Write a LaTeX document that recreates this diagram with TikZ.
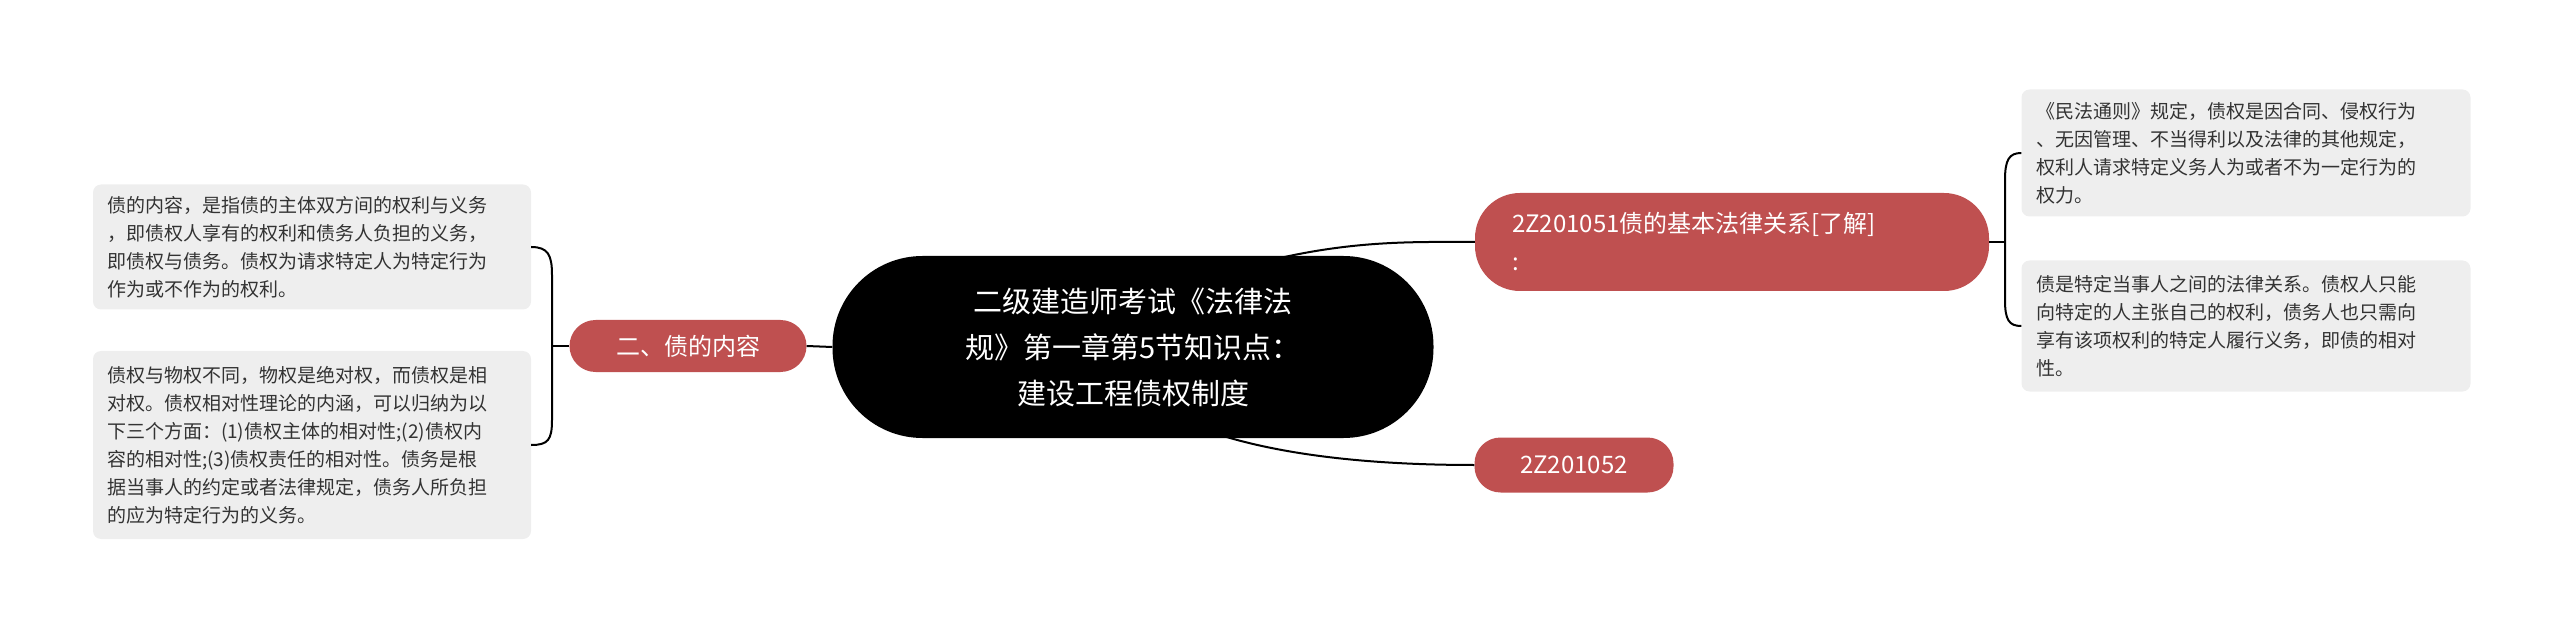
\documentclass[tikz,border=0pt]{standalone}
\usepackage{fontspec}
\setmainfont{Noto Sans CJK SC}
\begin{document}
\begin{tikzpicture}[x=1pt,y=-1pt,
  leaf/.style={fill=boxgray,rounded corners=8pt,text=txt,align=left,inner sep=0pt,font=\fontsize{19}{28}\selectfont},
  pill/.style={fill=pillred,rounded corners=26pt,text=white,font=\fontsize{24}{38}\selectfont,inner sep=0pt},
  conn/.style={line width=2pt,black}]
\definecolor{boxgray}{HTML}{EEEEEE}
\definecolor{txt}{HTML}{333333}
\definecolor{pillred}{HTML}{BF5050}
\useasboundingbox (0,0) rectangle (2560,628);
% central
\node[fill=black,rounded corners=90pt,minimum width=601pt,minimum height=182pt,text=white,align=center,font=\fontsize{29}{46}\selectfont] (c) at (1133,347) {二级建造师考试《法律法\\规》第一章第5节知识点：\\建设工程债权制度};
% pills
\node[pill,minimum width=237pt,minimum height=52pt] (p1) at (688,346) {二、债的内容};
\node[pill,minimum width=514pt,minimum height=98pt,align=left,text width=440pt,rounded corners=45pt] (p2) at (1732,242) {2Z201051债的基本法律关系[了解]\\:};
\node[pill,minimum width=199pt,minimum height=55pt] (p3) at (1574,465) {2Z201052};
% leaves
\node[leaf,minimum width=438pt,minimum height=125pt,text width=410pt] (l1) at (312,247) {债的内容，是指债的主体双方间的权利与义务\\，即债权人享有的权利和债务人负担的义务，\\即债权与债务。债权为请求特定人为特定行为\\作为或不作为的权利。};
\node[leaf,minimum width=438pt,minimum height=188pt,text width=410pt] (l2) at (312,445) {债权与物权不同，物权是绝对权，而债权是相\\对权。债权相对性理论的内涵，可以归纳为以\\下三个方面：(1)债权主体的相对性;(2)债权内\\容的相对性;(3)债权责任的相对性。债务是根\\据当事人的约定或者法律规定，债务人所负担\\的应为特定行为的义务。};
\node[leaf,minimum width=449pt,minimum height=127pt,text width=420pt] (r1) at (2246,153) {《民法通则》规定，债权是因合同、侵权行为\\、无因管理、不当得利以及法律的其他规定，\\权利人请求特定义务人为或者不为一定行为的\\权力。};
\node[leaf,minimum width=449pt,minimum height=131pt,text width=420pt] (r2) at (2246,326) {债是特定当事人之间的法律关系。债权人只能\\向特定的人主张自己的权利，债务人也只需向\\享有该项权利的特定人履行义务，即债的相对\\性。};
% connectors
\draw[conn] (c.west) -- (p1.east);
\draw[conn] (1280,258) .. controls (1360,240) and (1420,242) .. (p2.west);
\draw[conn] (1220,435) .. controls (1300,460) and (1400,465) .. (p3.west);
\coordinate (bl) at (552,346);
\draw[conn] (p1.west) -- (bl);
\draw[conn] (l1.east) .. controls (548,247) and (552,255) .. (552,275) -- (552,420) .. controls (552,440) and (548,445) .. (l2.east);
\coordinate (br) at (2005,242);
\draw[conn] (p2.east) -- (br);
\draw[conn] (r1.west) .. controls (2009,153) and (2005,160) .. (2005,180) -- (2005,300) .. controls (2005,320) and (2009,326) .. (r2.west);
\end{tikzpicture}
\end{document}
